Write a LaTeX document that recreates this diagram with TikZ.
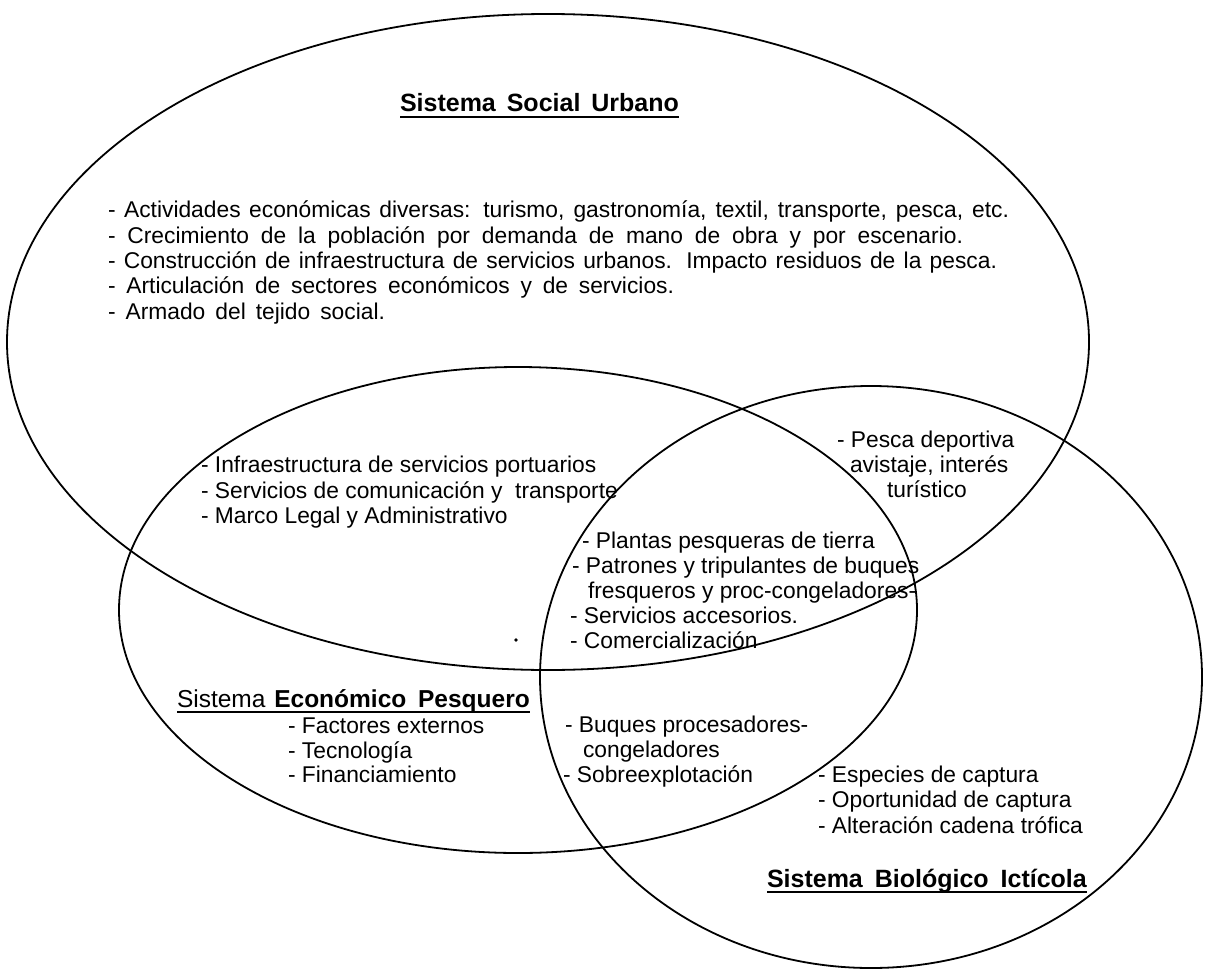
\documentclass[tikz,border=0pt]{standalone}
\usepackage{fontspec}
\setmainfont{Liberation Sans}
\begin{document}
\begin{tikzpicture}[x=1pt,y=-1pt,
  ring/.style={draw, line width=1.8pt},
  txt/.style={anchor=base west, inner sep=0pt, outer sep=0pt, font=\fontsize{22.8}{26}\selectfont},
  ttl/.style={txt, font=\fontsize{25}{28}\selectfont\bfseries},
  uline/.style={line width=1.8pt}]
\fill[white] (0,0) rectangle (1206,971);
\useasboundingbox (0,0) rectangle (1206,971);
% the three systems
\draw[ring] (548,342) ellipse [x radius=541pt, y radius=328pt];
\draw[ring] (518,610) ellipse [x radius=399pt, y radius=243pt];
\draw[ring] (871,677) ellipse [x radius=331pt, y radius=291pt];
% scan dot
\fill (516,640) circle (1.8pt);
% Sistema Social Urbano
\node[ttl] (tsoc) at (400,112) {Sistema\hspace{4pt} Social\hspace{4pt} Urbano};
\draw[uline] ([yshift=-5pt]tsoc.base west) -- ([yshift=-5pt]tsoc.base east);
\node[txt] (s1) at (108,217) {\makebox[901pt][s]{- Actividades económicas diversas: turismo, gastronomía, textil, transporte, pesca, etc.}};
\node[txt] (s2) at (108,243) {\makebox[855pt][s]{- Crecimiento de la población por demanda de mano de obra y por escenario.}};
\node[txt] (s3) at (108,268) {\makebox[889pt][s]{- Construcción de infraestructura de servicios urbanos. Impacto residuos de la pesca.}};
\node[txt] (s4) at (108,293) {\makebox[566pt][s]{- Articulación de sectores económicos y de servicios.}};
\node[txt] (s5) at (108,319) {\makebox[277pt][s]{- Armado del tejido social.}};
% Social / Biologico
\node[txt] (p1) at (837,447) {- Pesca deportiva};
\node[txt] (p2) at (850,472) {avistaje, interés};
\node[txt] (p3) at (887,497) {turístico};
% Social / Economico
\node[txt] (i1) at (201,472) {- Infraestructura de servicios portuarios};
\node[txt] (i2) at (201,498) {- Servicios de comunicación y\ \ transporte};
\node[txt] (i3) at (201,523) {- Marco Legal y Administrativo};
% centre
\node[txt] (c1) at (582,548) {- Plantas pesqueras de tierra};
\node[txt] (c2) at (572,573) {- Patrones y tripulantes de buques};
\node[txt] (c3) at (588,598) {fresqueros y proc-congeladores-};
\node[txt] (c4) at (570,623) {- Servicios accesorios.};
\node[txt] (c5) at (570,648) {- Comercialización};
% Sistema Economico Pesquero
\node[txt, font=\fontsize{24.5}{28}\selectfont] (tec) at (177,707) {Sistema\hspace{2pt} \textbf{Económico\hspace{5pt} Pesquero}};
\draw[uline] ([yshift=-5pt]tec.base west) -- ([yshift=-5pt]tec.base east);
\node[txt] (e1) at (288,733) {- Factores externos};
\node[txt] (e2) at (288,758) {- Tecnología};
\node[txt] (e3) at (288,782) {- Financiamiento};
% Economico / Biologico
\node[txt] (b1) at (565,732) {- Buques procesadores-};
\node[txt] (b2) at (583,757) {congeladores};
\node[txt] (b3) at (563,782) {- Sobreexplotación};
% Biologico
\node[txt] (f1) at (818,782) {- Especies de captura};
\node[txt] (f2) at (818,807) {- Oportunidad de captura};
\node[txt] (f3) at (818,833) {- Alteración cadena trófica};
\node[ttl] (tbio) at (767,887) {Sistema\hspace{5pt} Biológico\hspace{5pt} Ictícola};
\draw[uline] ([yshift=-5pt]tbio.base west) -- ([yshift=-5pt]tbio.base east);
\end{tikzpicture}
\end{document}
